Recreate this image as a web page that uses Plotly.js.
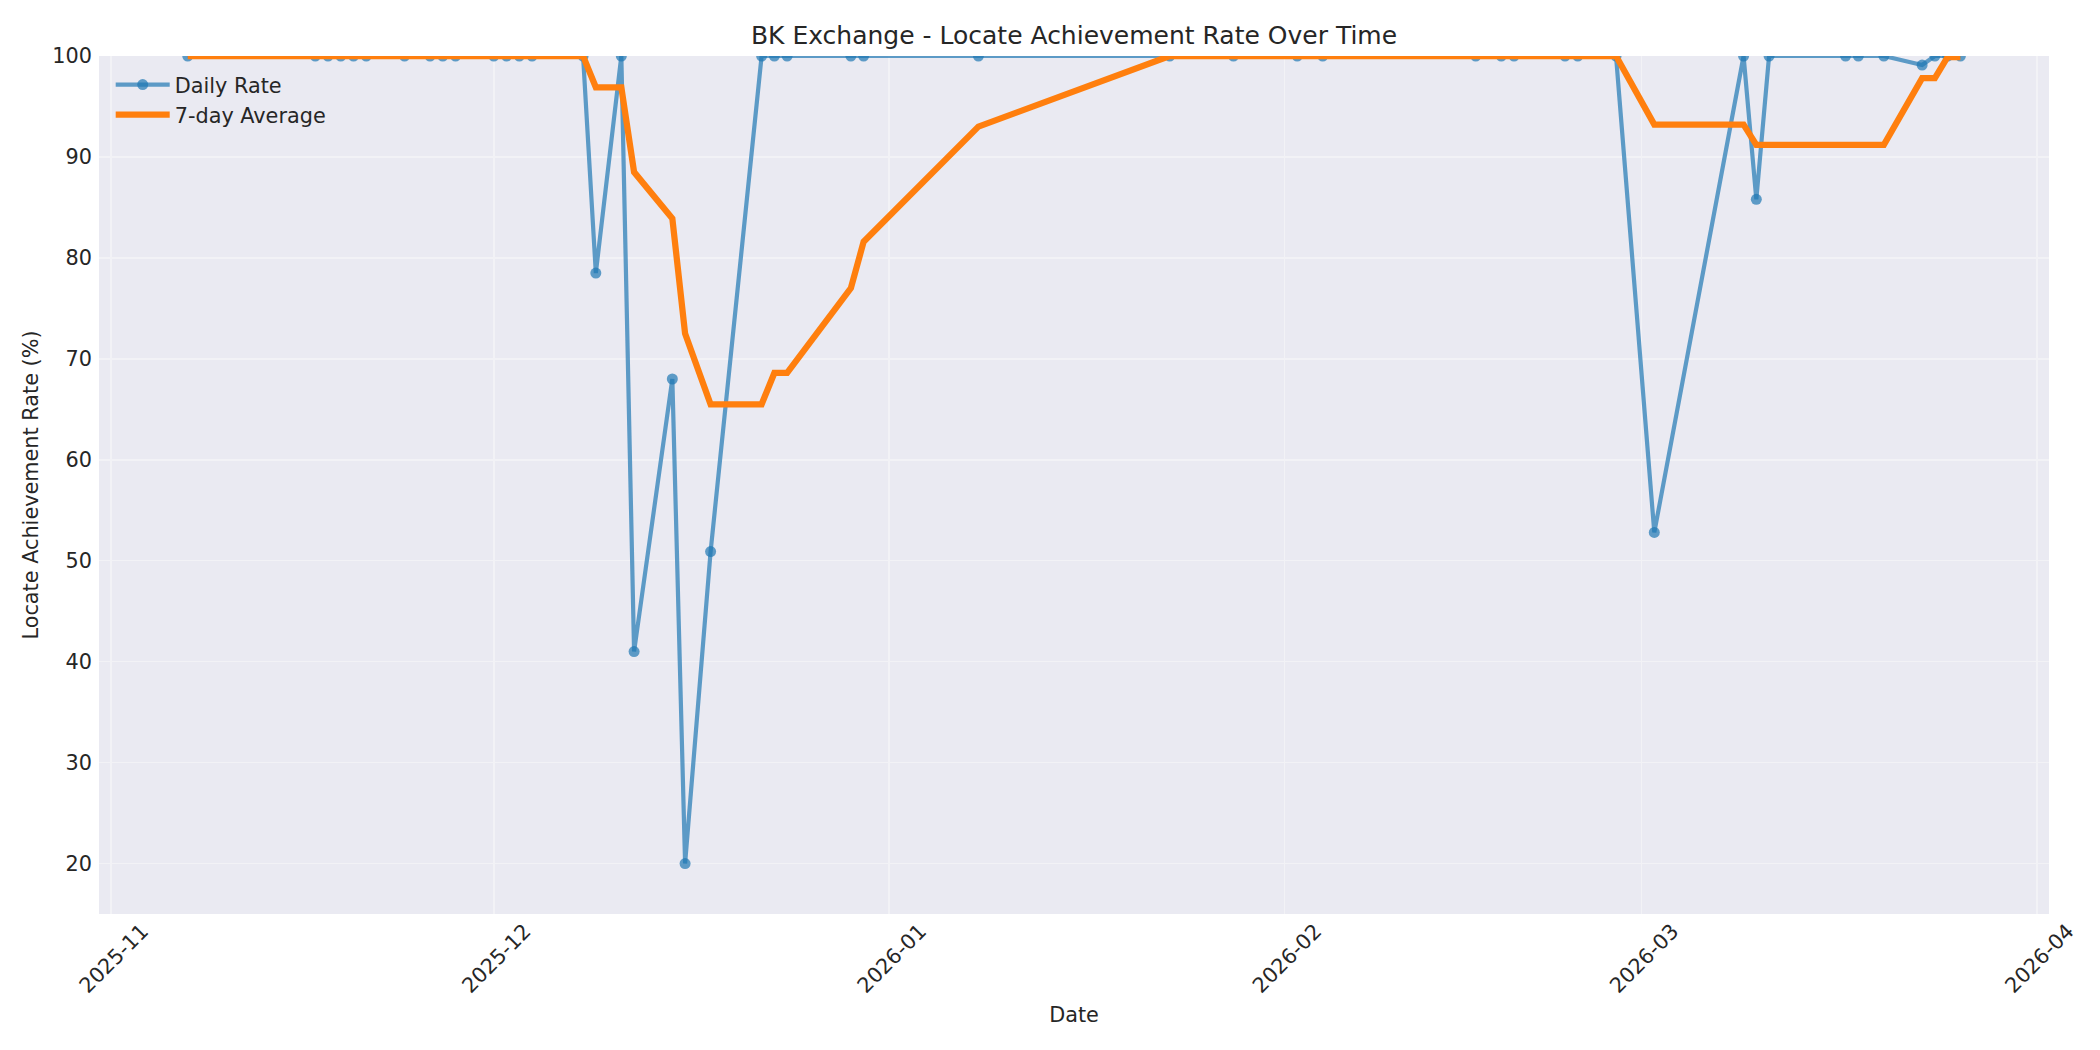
<!DOCTYPE html>
<html>
<head>
<meta charset="utf-8">
<script src="https://cdn.plot.ly/plotly-3.0.1.min.js"></script>
<style>html,body{margin:0;padding:0;background:#fff;}#chart{width:2100px;height:1050px;}</style>
</head>
<body>
<div id="chart"></div>
<script>
// Dates of each observation
const dates = [
  "2025-11-07","2025-11-17","2025-11-18","2025-11-19","2025-11-20","2025-11-21",
  "2025-11-24","2025-11-26","2025-11-27","2025-11-28",
  "2025-12-01","2025-12-02","2025-12-03","2025-12-04","2025-12-08","2025-12-09",
  "2025-12-11","2025-12-12","2025-12-15","2025-12-16","2025-12-18",
  "2025-12-22","2025-12-23","2025-12-24","2025-12-29","2025-12-30",
  "2026-01-08","2026-01-23","2026-01-28",
  "2026-02-02","2026-02-04","2026-02-16","2026-02-18","2026-02-19","2026-02-23","2026-02-24","2026-02-27",
  "2026-03-02","2026-03-09","2026-03-10","2026-03-11","2026-03-17","2026-03-18","2026-03-20",
  "2026-03-23","2026-03-24","2026-03-25","2026-03-26"
];
// Daily locate achievement rate (%)
const dailyRate = [
  100,100,100,100,100,100,
  100,100,100,100,
  100,100,100,100,100,78.5,
  100,41.0,68.0,20.0,50.9,
  100,100,100,100,100,
  100,100,100,
  100,100,100,100,100,100,100,100,
  52.8,100,85.8,100,100,100,100,
  99.1,100,100,100
];
// 7-day average (%)
const avg7 = [
  100,100,100,100,100,100,
  100,100,100,100,
  100,100,100,100,100,96.9,
  96.9,88.5,83.9,72.5,65.5,
  65.5,68.6,68.6,77.0,81.6,
  93.0,100,100,
  100,100,100,100,100,100,100,100,
  93.2,93.2,91.2,91.2,91.2,91.2,91.2,
  97.8,97.8,99.9,99.9
];
const monthTicks = ["2025-11-01","2025-12-01","2026-01-01","2026-02-01","2026-03-01","2026-04-01"];
const monthLabels = ["2025-11","2025-12","2026-01","2026-02","2026-03","2026-04"];
const yTicks = [20,30,40,50,60,70,80,90,100];

const FONT = "DejaVu Sans, Liberation Sans, sans-serif";
const TXT = "#262626";

const traces = [
  {
    x: dates, y: dailyRate, type: "scatter", mode: "lines+markers", name: "Daily Rate",
    line: {color: "rgba(31,119,180,0.7)", width: 4.2},
    marker: {color: "rgba(31,119,180,0.7)", size: 11, line: {width: 0}}
  },
  {
    x: dates, y: avg7, type: "scatter", mode: "lines", name: "7-day Average",
    line: {color: "#ff7f0e", width: 6.25}
  }
];

const layout = {
  width: 2100, height: 1050,
  margin: {l: 99, r: 51, t: 56, b: 136, pad: 0},
  paper_bgcolor: "#ffffff",
  plot_bgcolor: "#EAEAF2",
  font: {family: FONT, size: 20.8, color: TXT},
  title: {
    text: "BK Exchange - Locate Achievement Rate Over Time",
    font: {family: FONT, size: 25, color: TXT},
    x: 0.5, xref: "paper", xanchor: "center",
    y: 1 - 35/1050, yref: "container", yanchor: "middle"
  },
  xaxis: {
    type: "date",
    range: ["2025-10-31 01:00", "2026-04-01 22:48"],
    tickvals: monthTicks, ticktext: monthLabels,
    tickangle: -45,
    ticklabelshift: 31, ticklabelstandoff: 0,
    tickfont: {family: FONT, size: 20.8, color: TXT},
    showgrid: true, gridcolor: "#F2F2F6", gridwidth: 1.5,
    zeroline: false, showline: false, ticks: "",
    title: {text: "Date", font: {family: FONT, size: 20.8, color: TXT}, standoff: 10}
  },
  yaxis: {
    range: [15, 100],
    tickvals: yTicks,
    ticklabelstandoff: 6,
    tickfont: {family: FONT, size: 20.8, color: TXT},
    showgrid: true, gridcolor: "#F2F2F6", gridwidth: 1.5,
    zeroline: false, showline: false, ticks: "",
    title: {text: "Locate Achievement Rate (%)", font: {family: FONT, size: 20.8, color: TXT}, standoff: 8}
  },
  showlegend: true,
  legend: {
    x: 0.006, y: 0.99, xanchor: "left", yanchor: "top",
    itemwidth: 54,
    bgcolor: "rgba(0,0,0,0)", borderwidth: 0,
    font: {family: FONT, size: 20.8, color: TXT}
  }
};

Plotly.newPlot("chart", traces, layout, {displayModeBar: false, staticPlot: true});
</script>
</body>
</html>
